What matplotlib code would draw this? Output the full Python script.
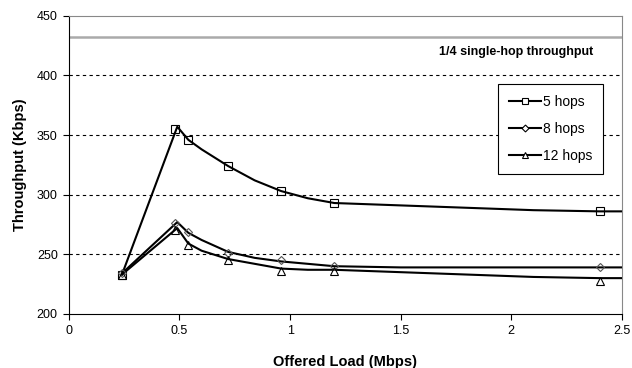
import matplotlib.pyplot as plt
from matplotlib.lines import Line2D

plt.rcParams['font.family'] = ['Liberation Sans', 'DejaVu Sans']

# measured points (markers)
load = [0.24, 0.48, 0.54, 0.72, 0.96, 1.2, 2.4]
hops5 = [233, 355, 346, 324, 303, 293, 286]
hops8 = [234, 276, 269, 251, 245, 240, 239]
hops12 = [233, 270, 258, 245, 236, 236, 228]

# trend curves
curve_x = [0.24, 0.49, 0.54, 0.6, 0.72, 0.84, 0.96, 1.08, 1.2, 1.5, 1.8, 2.1, 2.4, 2.5]
curve5 = [233, 357, 346, 338, 324, 312, 303, 297, 293, 291, 289, 287, 286, 286]
curve8 = [234, 277, 268, 262, 252, 247, 244, 242, 240, 239, 239, 239, 239, 239]
curve12 = [233, 272, 259, 253, 246, 242, 238, 237, 237, 235, 233, 231, 230, 230]

single_hop_quarter = 432

fig = plt.figure(figsize=(6.32, 3.68), dpi=100)
ax = fig.add_axes([0.109, 0.147, 0.875, 0.81])

ax.axhline(single_hop_quarter, color='#aaaaaa', lw=1.8, zorder=1)
ax.text(2.37, 420, '1/4 single-hop throughput', ha='right', va='center',
        fontsize=9, fontweight='bold')

for y in [250, 300, 350, 400]:
    ax.axhline(y, color='black', lw=0.8, ls=(0, (3, 3)), zorder=0)

series = [
    ('5 hops', hops5, curve5, 's'),
    ('8 hops', hops8, curve8, 'D'),
    ('12 hops', hops12, curve12, '^'),
]
handles = []
for name, vals, curve, mk in series:
    ms = 4.5 if mk == 'D' else 5.5
    ax.plot(curve_x, curve, color='black', lw=1.5, zorder=3)
    ax.plot(load, vals, ls='none', marker=mk, ms=ms, mfc='none',
            mec='#555555' if mk == 'D' else 'black', mew=0.8, zorder=4)
    handles.append(Line2D([], [], color='black', lw=1.5, marker=mk, ms=ms - 1,
                          mfc='white', mec='black', mew=0.8, label=name))

leg = ax.legend(handles=handles, loc='upper right', bbox_to_anchor=(0.966, 0.772),
                fontsize=10, handlelength=2.3, handletextpad=0.1,
                labelspacing=0.95, borderpad=0.8, borderaxespad=0,
                fancybox=False, edgecolor='black', framealpha=1)
leg.get_frame().set_linewidth(0.8)

ax.set_xlim(0, 2.5)
ax.set_ylim(200, 450)
ax.set_xticks([0, 0.5, 1, 1.5, 2, 2.5])
ax.set_xticklabels(['0', '0.5', '1', '1.5', '2', '2.5'])
ax.set_yticks([200, 250, 300, 350, 400, 450])
ax.tick_params(labelsize=9, length=4, width=0.8, direction='out', pad=4)

for side in ['top', 'right']:
    ax.spines[side].set_color('#888888')
    ax.spines[side].set_linewidth(0.8)
for side in ['left', 'bottom']:
    ax.spines[side].set_color('black')
    ax.spines[side].set_linewidth(0.8)

ax.set_xlabel('Offered Load (Mbps)', fontsize=10.5, fontweight='bold', labelpad=13)
ax.set_ylabel('Throughput (Kbps)', fontsize=10.5, fontweight='bold', labelpad=7)

fig.savefig('out.png', dpi=100)
